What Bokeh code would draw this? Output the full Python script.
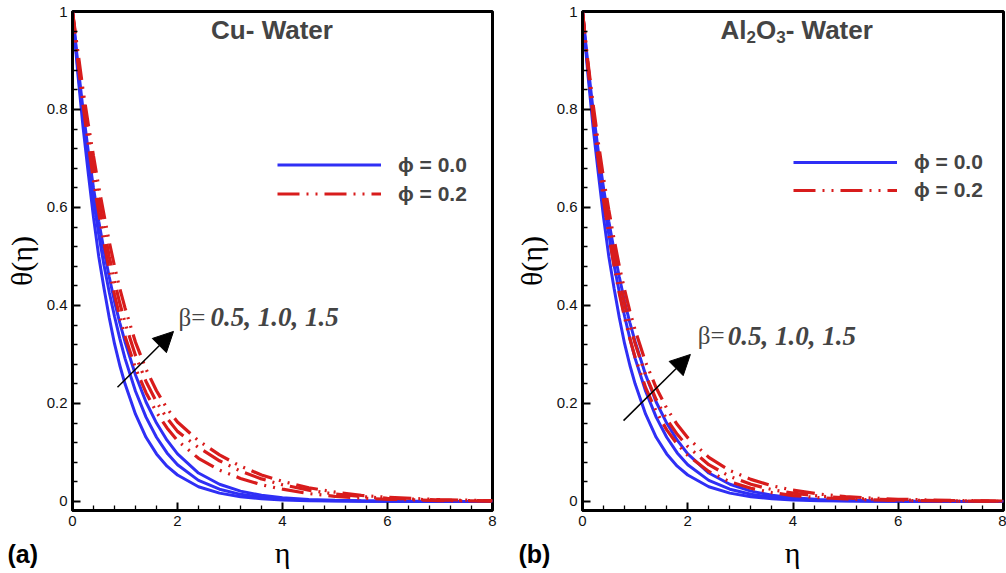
from bokeh.plotting import figure
from bokeh.layouts import row, column
from bokeh.models import (FixedTicker, CustomJSTickFormatter, Legend, LegendItem,
                          Label, Arrow, NormalHead)
from bokeh.core.properties import value
from bokeh.embed import file_html
from bokeh.resources import INLINE

# ---------------- data ----------------
eta = [0, 0.1, 0.2, 0.3, 0.4, 0.5, 0.6, 0.7, 0.8, 0.9, 1.0, 1.2, 1.4, 1.6, 1.8,
       2.0, 2.4, 2.8, 3.2, 3.6, 4.0, 4.5, 5.0, 5.5, 6.0, 7.0, 8.0]

# phi = 0.0 (pure water) -- identical in both panels
water_b05 = [1.0, 0.875, 0.765, 0.670, 0.580, 0.500, 0.435, 0.375, 0.322, 0.278, 0.240,
             0.178, 0.131, 0.097, 0.072, 0.054, 0.030, 0.017, 0.0095, 0.0053, 0.003,
             0.0015, 0.0008, 0.0004, 0.0002, 0.0, 0.0]
water_b10 = [1.0, 0.885, 0.785, 0.695, 0.615, 0.545, 0.482, 0.427, 0.378, 0.333, 0.292,
             0.225, 0.172, 0.131, 0.099, 0.075, 0.043, 0.025, 0.0145, 0.0085, 0.005,
             0.0026, 0.0014, 0.0008, 0.0004, 0.0001, 0.0]
water_b15 = [1.0, 0.895, 0.800, 0.715, 0.640, 0.572, 0.512, 0.458, 0.408, 0.365, 0.326,
             0.258, 0.203, 0.160, 0.125, 0.097, 0.058, 0.035, 0.021, 0.0125, 0.0075,
             0.004, 0.0022, 0.0012, 0.0007, 0.0002, 0.0]

# phi = 0.2, Cu-water
cu_b05 = [1.0, 0.900, 0.810, 0.730, 0.655, 0.590, 0.528, 0.472, 0.422, 0.377, 0.337,
          0.272, 0.222, 0.182, 0.150, 0.124, 0.088, 0.064, 0.047, 0.034, 0.025,
          0.016, 0.0105, 0.0068, 0.0044, 0.0018, 0.0007]
cu_b10 = [1.0, 0.910, 0.825, 0.750, 0.680, 0.615, 0.555, 0.500, 0.450, 0.405, 0.365,
          0.298, 0.245, 0.203, 0.170, 0.143, 0.110, 0.083, 0.062, 0.046, 0.034,
          0.023, 0.015, 0.010, 0.0065, 0.0028, 0.0012]
cu_b15 = [1.0, 0.920, 0.840, 0.770, 0.705, 0.642, 0.585, 0.530, 0.480, 0.435, 0.395,
          0.325, 0.270, 0.226, 0.190, 0.162, 0.124, 0.095, 0.072, 0.054, 0.041,
          0.028, 0.019, 0.0125, 0.0083, 0.0036, 0.0016]

# phi = 0.2, Al2O3-water
al_b05 = [1.0, 0.890, 0.785, 0.695, 0.615, 0.543, 0.480, 0.424, 0.375, 0.332, 0.294,
          0.232, 0.184, 0.146, 0.117, 0.094, 0.061, 0.040, 0.027, 0.018, 0.012,
          0.0077, 0.005, 0.0032, 0.002, 0.0008, 0.0003]
al_b10 = [1.0, 0.895, 0.800, 0.715, 0.640, 0.570, 0.508, 0.452, 0.403, 0.360, 0.322,
          0.258, 0.208, 0.168, 0.137, 0.112, 0.075, 0.051, 0.035, 0.024, 0.017,
          0.011, 0.0072, 0.0047, 0.003, 0.0013, 0.0005]
al_b15 = [1.0, 0.900, 0.812, 0.733, 0.660, 0.595, 0.535, 0.480, 0.432, 0.388, 0.350,
          0.284, 0.232, 0.190, 0.157, 0.130, 0.090, 0.063, 0.045, 0.032, 0.023,
          0.015, 0.010, 0.0067, 0.0045, 0.002, 0.0009]

x_ticks = [0, 2, 4, 6, 8]
x_minor_ticks = [0.4, 0.8, 1.2, 1.6, 2.4, 2.8, 3.2, 3.6, 4.4, 4.8, 5.2, 5.6,
                 6.4, 6.8, 7.2, 7.6]
y_ticks = [0, 0.2, 0.4, 0.6, 0.8, 1]
y_minor_ticks = [0.04, 0.08, 0.12, 0.16, 0.24, 0.28, 0.32, 0.36, 0.44, 0.48, 0.52,
                 0.56, 0.64, 0.68, 0.72, 0.76, 0.84, 0.88, 0.92, 0.96]
legend_labels = ["\u03d5 = 0.0", "\u03d5 = 0.2"]
beta_prefix = "\u03b2="
beta_values = "0.5, 1.0, 1.5"
panel_tags = ["(a)", "(b)"]
x_title = "\u03b7"
y_title = "\u03b8(\u03b7)"
# title pieces: (text, is_subscript)
title_cu = [("Cu- Water", False)]
title_al = [("Al", False), ("2", True), ("O", False), ("3", True), ("- Water", False)]

BLUE = "#2f2ff5"
RED = "#d81c1c"
DASH = "22 7 2 7 2 7"
SANS = "Liberation Sans"
SERIF = "Liberation Serif"

TOP, FRAME_H, BOTTOM = 11, 499, 24


def make_panel(title_parts, title_xs, title_y, title_align, red_series, width, bl, br,
               legend_loc, glyph_h, arrow, beta_pos):
    p = figure(width=width, height=TOP + FRAME_H + BOTTOM, output_backend="svg",
               toolbar_location=None, x_range=(0, 8), y_range=(-0.0185, 1.0),
               min_border_left=bl, min_border_right=br, min_border_top=TOP,
               min_border_bottom=BOTTOM)
    p.background_fill_color = "white"
    p.border_fill_color = "white"
    p.outline_line_color = "black"
    p.outline_line_width = 3
    p.xgrid.visible = False
    p.ygrid.visible = False

    blue_rs = []
    for ys in (water_b05, water_b10, water_b15):
        blue_rs.append(p.line(eta, ys, line_color=BLUE, line_width=3))
    red_rs = []
    for ys in red_series:
        red_rs.append(p.line(eta, ys, line_color=RED, line_width=3.2, line_dash=DASH))

    fmt = CustomJSTickFormatter(code="return String(Math.round(tick*10)/10);")
    p.xaxis.ticker = FixedTicker(ticks=x_ticks, minor_ticks=x_minor_ticks)
    p.yaxis.ticker = FixedTicker(ticks=y_ticks, minor_ticks=y_minor_ticks)
    p.xaxis.formatter = fmt
    p.yaxis.formatter = fmt
    for ax in (p.xaxis[0], p.yaxis[0]):
        ax.axis_line_width = 3
        ax.major_tick_in = 8
        ax.major_tick_out = 0
        ax.minor_tick_in = 5
        ax.minor_tick_out = 0
        ax.major_tick_line_width = 2
        ax.minor_tick_line_width = 1.3
        ax.major_label_text_font = SANS
        ax.major_label_text_font_size = "15px"
        ax.major_label_text_color = "#111111"
        ax.major_label_standoff = 5
    p.yaxis.axis_label = y_title
    p.yaxis.axis_label_text_font = SERIF
    p.yaxis.axis_label_text_font_style = "normal"
    p.yaxis.axis_label_text_font_size = "30px"
    p.yaxis.axis_label_text_color = "black"
    p.yaxis.axis_label_standoff = 6

    legend = Legend(items=[LegendItem(label=legend_labels[0], renderers=[blue_rs[0]]),
                           LegendItem(label=legend_labels[1], renderers=[red_rs[0]])],
                    location=legend_loc, glyph_width=104, glyph_height=glyph_h,
                    label_height=glyph_h, spacing=0, padding=0, margin=0,
                    border_line_alpha=0, background_fill_alpha=0,
                    label_text_font=SANS, label_text_font_style="bold",
                    label_text_font_size="21px", label_standoff=17)
    p.add_layout(legend)

    for (txt, sub), tx in zip(title_parts, title_xs):
        p.add_layout(Label(x=tx, y=title_y - (0.014 if sub else 0.0), text=txt,
                           text_font=SANS, text_font_style="bold",
                           text_font_size="17px" if sub else "26px",
                           text_align=title_align, text_baseline="alphabetic"))

    p.add_layout(Arrow(end=NormalHead(size=20, fill_color="black", line_color="black"),
                       x_start=arrow[0], y_start=arrow[1], x_end=arrow[2], y_end=arrow[3],
                       line_width=1.5, line_color="black"))
    p.add_layout(Label(x=beta_pos[0], y=beta_pos[1], text=beta_prefix, text_font=SERIF,
                       text_font_size="25px", text_baseline="alphabetic"))
    p.add_layout(Label(x=beta_pos[2], y=beta_pos[1], text=beta_values, text_font=SERIF,
                       text_font_style="bold italic", text_font_size="27px",
                       text_baseline="alphabetic"))
    return p


p1 = make_panel(title_cu, [3.8], 0.962, "center", (cu_b05, cu_b10, cu_b15), 500, 72, 8,
                (205, 302), 29, (0.857, 0.233, 1.924, 0.347), (2.02, 0.3755, 2.63))
p2 = make_panel(title_al, [2.622, 3.116, 3.297, 3.681, 3.861], 0.962, "left",
                (al_b05, al_b10, al_b15), 506, 82, 3,
                (211, 306), 28, (0.78, 0.165, 2.05, 0.30), (2.19, 0.3385, 2.76))

# footer strip holding the panel tags and the x-axis titles
FOOT_W, FOOT_H = 1006, 573 - (TOP + FRAME_H + BOTTOM)
foot = figure(width=FOOT_W, height=FOOT_H, output_backend="svg", toolbar_location=None,
              x_range=(0, FOOT_W), y_range=(0, FOOT_H), x_axis_location=None,
              y_axis_location=None, min_border=0)
foot.outline_line_color = None
foot.xgrid.visible = False
foot.ygrid.visible = False
foot.background_fill_color = "white"
foot.border_fill_color = "white"
foot.text(x=[7, 518], y=[20, 20], text=panel_tags, text_font=value(SANS),
          text_font_style="bold", text_font_size="25px", text_baseline="middle",
          text_align="left", text_color="black")
foot.text(x=[282, 792], y=[21, 21], text=[x_title, x_title], text_font=value(SERIF),
          text_font_size="30px", text_baseline="alphabetic", text_align="center",
          text_color="black")

layout = column(row(p1, p2, spacing=0), foot, spacing=0)
open("out.html", "w").write(file_html(layout, INLINE))
